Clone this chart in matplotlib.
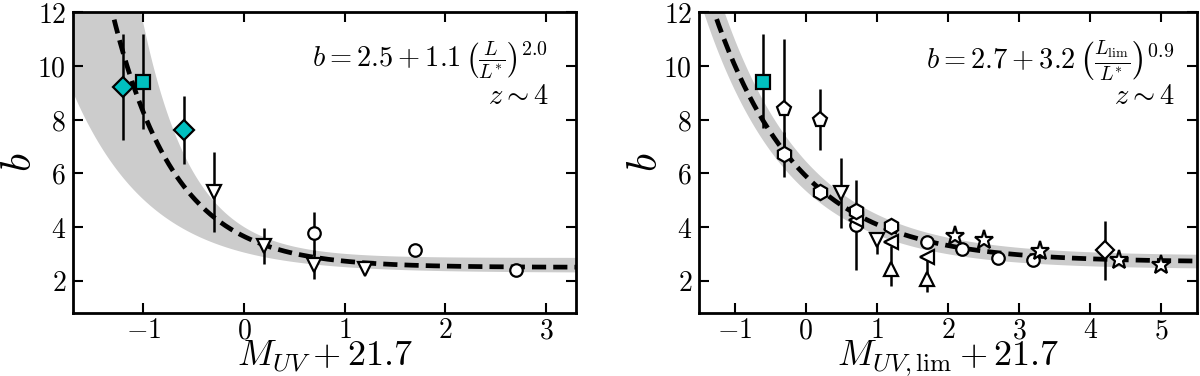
import numpy as np
import matplotlib
matplotlib.use('Agg')
import matplotlib.pyplot as plt
from matplotlib.ticker import FuncFormatter

plt.rcParams['mathtext.fontset'] = 'cm'
plt.rcParams['font.family'] = 'serif'

# ---- left panel: b vs M_UV + 21.7 ----
# fit curve and band: b = a + c * (L/L*)^p, L/L* = 10^(-0.4 x)
fitL = (2.5, 1.15, 1.75)
bandL_lo = (2.3, 0.75, 1.4)
bandL_hi = (2.85, 1.15, 2.2)

cyanD_x = [-1.2, -0.6]
cyanD_y = [9.2, 7.6]
cyanD_lo = [1.96, 1.27]
cyanD_hi = [2.0, 1.28]

cyanS_x = [-1.0]
cyanS_y = [9.4]
cyanS_lo = [1.77]
cyanS_hi = [1.8]

triL_x = [-0.3, 0.2, 0.7, 1.2]
triL_y = [5.3, 3.3, 2.6, 2.45]
triL_lo = [1.5, 0.68, 0.55, 0.0]
triL_hi = [1.5, 0.68, 0.55, 0.0]

circL_x = [0.7, 1.7, 2.7]
circL_y = [3.77, 3.13, 2.41]
circL_lo = [0.8, 0.0, 0.0]
circL_hi = [0.8, 0.0, 0.0]

# ---- right panel: b vs M_UV,lim + 21.7 ----
fitR = (2.7, 3.2, 0.9)
bandR_lo = (2.45, 2.9, 0.9)
bandR_hi = (2.95, 3.5, 0.9)

cyanSR_x = [-0.6]
cyanSR_y = [9.4]
cyanSR_lo = [1.72]
cyanSR_hi = [1.8]

hex_x = [-0.3, 0.2, 0.7, 1.2]
hex_y = [6.7, 5.3, 4.6, 4.05]
hex_lo = [0.85, 0.0, 0.0, 0.0]
hex_hi = [0.85, 0.0, 0.0, 0.0]

pent_x = [-0.3, 0.2]
pent_y = [8.4, 8.0]
pent_lo = [1.7, 1.15]
pent_hi = [2.6, 1.15]

triR_x = [0.5, 1.0]
triR_y = [5.28, 3.5]
triR_lo = [1.3, 0.5]
triR_hi = [1.3, 0.3]

circR_x = [0.7, 1.7, 2.2, 2.7, 3.2]
circR_y = [4.08, 3.45, 3.18, 2.84, 2.78]
circR_lo = [1.67, 0.0, 0.0, 0.0, 0.0]
circR_hi = [1.67, 0.0, 0.0, 0.0, 0.0]

ltri_x = [0.7, 1.2, 1.7]
ltri_y = [4.25, 3.46, 2.9]

utri_x = [1.2, 1.7]
utri_y = [2.45, 2.05]
utri_lo = [0.65, 0.45]
utri_hi = [0.85, 0.8]

star_x = [2.1, 2.5, 3.3, 4.4, 5.0]
star_y = [3.65, 3.52, 3.09, 2.78, 2.6]

wdiam_x = [4.2]
wdiam_y = [3.13]
wdiam_lo = [1.12]
wdiam_hi = [1.11]


def model(x, pars):
    a, c, p = pars
    return a + c * (10 ** (-0.4 * x)) ** p


def points(ax, x, y, lo=None, hi=None, marker='o', ms=9, fc='white'):
    if lo is not None:
        ax.errorbar(x, y, yerr=[lo, hi], fmt='none', ecolor='k',
                    elinewidth=1.8, capsize=0, zorder=3)
    ax.plot(x, y, ls='none', marker=marker, ms=ms, mfc=fc, mec='k',
            mew=1.6, zorder=4)


def setup(ax, xlim, xticks, xlabel, fit, band_lo, band_hi, eq, eq_x):
    xx = np.linspace(xlim[0], xlim[1], 400)
    ax.fill_between(xx, model(xx, band_lo), model(xx, band_hi),
                    color='0.8', lw=0, zorder=1)
    ax.plot(xx, model(xx, fit), color='k', lw=3.4, ls='--',
            dashes=(3, 1.5), zorder=2)
    ax.set_xlim(*xlim)
    ax.set_ylim(0.8, 12)
    ax.set_xticks(xticks)
    ax.set_yticks([2, 4, 6, 8, 10, 12])
    fmt = FuncFormatter(lambda v, pos: f'${v:g}$')
    ax.xaxis.set_major_formatter(fmt)
    ax.yaxis.set_major_formatter(fmt)
    ax.tick_params(direction='in', length=7, width=1.5, top=True,
                   right=True, labelsize=20, pad=5)
    ax.tick_params(axis='x', pad=3)
    for s in ax.spines.values():
        s.set_linewidth(2)
    ax.set_xlabel(xlabel, fontsize=26)
    ax.xaxis.set_label_coords(0.5, -0.085)
    ax.set_ylabel('$b$', fontsize=30)
    ax.yaxis.set_label_coords(-0.066, 0.5)
    ax.text(eq_x, 0.84, eq, transform=ax.transAxes, ha='right',
            va='center', fontsize=20.5)
    ax.text(eq_x, 0.72, r'$z\sim 4$', transform=ax.transAxes,
            ha='right', va='center', fontsize=20.5)


fig = plt.figure(figsize=(12, 3.76), dpi=100)
ax1 = fig.add_axes([73 / 1200, 1 - 313 / 376, 503 / 1200, 301 / 376])
ax2 = fig.add_axes([699 / 1200, 1 - 313 / 376, 498 / 1200, 301 / 376])

setup(ax1, (-1.7, 3.3), [-1, 0, 1, 2, 3], r'$M_{UV}+21.7$',
      fitL, bandL_lo, bandL_hi,
      r'$b=2.5+1.1\,\left(\frac{L}{L^{*}}\right)^{2.0}$', 0.945)
points(ax1, triL_x, triL_y, triL_lo, triL_hi, marker='v', ms=10)
points(ax1, circL_x, circL_y, circL_lo, circL_hi, marker='o', ms=9)
points(ax1, cyanD_x, cyanD_y, cyanD_lo, cyanD_hi, marker='D', ms=10, fc='c')
points(ax1, cyanS_x, cyanS_y, cyanS_lo, cyanS_hi, marker='s', ms=10, fc='c')

setup(ax2, (-1.5, 5.5), [-1, 0, 1, 2, 3, 4, 5], r'$M_{UV,\mathrm{lim}}+21.7$',
      fitR, bandR_lo, bandR_hi,
      r'$b=2.7+3.2\,\left(\frac{L_{\mathrm{lim}}}{L^{*}}\right)^{0.9}$', 0.955)
points(ax2, circR_x, circR_y, circR_lo, circR_hi, marker='o', ms=9)
points(ax2, ltri_x, ltri_y, marker='<', ms=10)
points(ax2, utri_x, utri_y, utri_lo, utri_hi, marker='^', ms=10)
points(ax2, triR_x, triR_y, triR_lo, triR_hi, marker='v', ms=10)
points(ax2, hex_x, hex_y, hex_lo, hex_hi, marker='h', ms=11)
points(ax2, pent_x, pent_y, pent_lo, pent_hi, marker='p', ms=11)
points(ax2, star_x, star_y, marker='*', ms=14)
points(ax2, wdiam_x, wdiam_y, wdiam_lo, wdiam_hi, marker='D', ms=9)
points(ax2, cyanSR_x, cyanSR_y, cyanSR_lo, cyanSR_hi, marker='s', ms=10, fc='c')

fig.savefig('out.png', dpi=100)
